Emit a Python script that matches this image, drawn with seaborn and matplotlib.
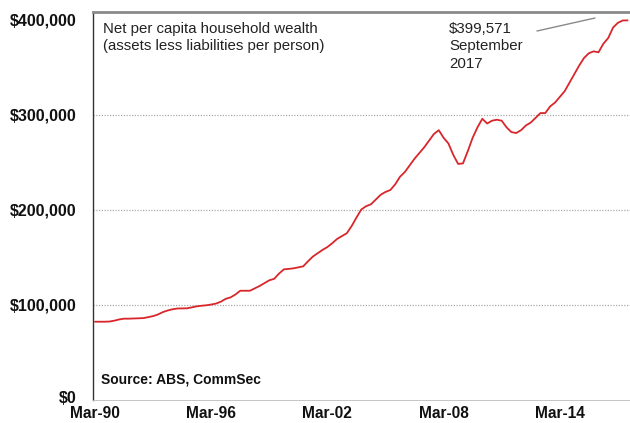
import matplotlib
matplotlib.use("Agg")
import matplotlib.pyplot as plt
import matplotlib.transforms as mtransforms
import seaborn as sns
import pandas as pd
import numpy as np

sns.set_style("white")
plt.rcParams['font.family'] = ['Liberation Sans', 'DejaVu Sans']

# Quarterly net per capita household wealth ($ thousands), Mar-90 .. Sep-17
wealth_k = [
    82.4, 82.4, 82.4, 82.6,
    83.5, 84.8, 85.6, 85.6,
    85.8, 86.0, 86.2, 87.2,
    88.3, 90.0, 92.5, 94.2,
    95.5, 96.3, 96.4, 96.5,
    97.5, 98.6, 99.2, 99.7,
    100.5, 101.5, 103.5, 106.5,
    108, 111, 115, 115,
    115, 117.5, 120, 123,
    126, 127.5, 133, 137.5,
    138, 138.6, 139.6, 140.7,
    146, 151, 154.5, 158,
    161, 165, 169.5, 172.5,
    175.5, 183, 192, 200.5,
    204, 206, 211, 216,
    219, 221, 227, 235,
    240, 247, 254, 260,
    266, 273, 280, 284,
    276, 270, 258, 248.5,
    249, 262, 276, 287,
    296, 291, 294, 295,
    294, 287, 282, 281,
    284, 289, 292, 297,
    302, 302, 309, 313,
    319, 325, 334, 343,
    352, 360, 365, 367,
    366, 375, 381, 392,
    397, 399.5, 399.571,
]
tick_labels = ["Mar-90", "Mar-96", "Mar-02", "Mar-08", "Mar-14"]
tick_pos = [0, 24, 48, 72, 96]
y_ticks = [0, 100000, 200000, 300000, 400000]
y_labels = ["$0", "$100,000", "$200,000", "$300,000", "$400,000"]

df = pd.DataFrame({"q": np.arange(len(wealth_k)), "wealth": np.array(wealth_k) * 1000})

fig = plt.figure(figsize=(6.3, 4.23), dpi=100)
ax = fig.add_axes([93/630, 1 - 400/423, 537/630, 388/423])
sns.lineplot(data=df, x="q", y="wealth", ax=ax, color="#d9262b", linewidth=1.3)

ax.set_xlim(-0.41, 110.5)
ax.set_ylim(0, 408400)
ax.set_xlabel("")
ax.set_ylabel("")

ax.set_yticks(y_ticks)
ax.set_yticklabels(y_labels, fontsize=11.5, fontweight="bold", color="#111111")
ax.set_xticks(tick_pos)
ax.set_xticklabels(tick_labels, fontsize=11.2, fontweight="bold", color="#111111")
ax.set_xticks(np.arange(0, 111), minor=True)
ax.tick_params(axis="x", which="major", length=0, pad=4.5)
ax.tick_params(axis="x", which="minor", direction="in", length=3.5, width=0.6, color="#888888")
ax.tick_params(axis="y", which="major", direction="out", length=6, width=0.8, color="#aaaaaa", pad=6)

# lift the "$0" label a touch so it clears the first date label
zero_lbl = ax.get_yticklabels()[0]
zero_lbl.set_transform(zero_lbl.get_transform() +
                       mtransforms.ScaledTranslation(0, 2.5 / 72, fig.dpi_scale_trans))

for v in [100000, 200000, 300000]:
    ax.axhline(v, color="#aaaaaa", linestyle=(0, (1, 1.2)), linewidth=0.9, zorder=0)

ax.spines["left"].set_color("#333333")
ax.spines["left"].set_linewidth(1.0)
ax.spines["top"].set_color("#8a8a8a")
ax.spines["top"].set_linewidth(2.0)
ax.spines["bottom"].set_color("#bbbbbb")
ax.spines["bottom"].set_linewidth(0.6)
ax.spines["right"].set_visible(False)

ax.text(0.0186, 0.974, "Net per capita household wealth\n(assets less liabilities per person)",
        transform=ax.transAxes, ha="left", va="top", fontsize=10.8, color="#222222",
        linespacing=1.3)
ax.text(0.663, 0.974, "$399,571\nSeptember\n2017",
        transform=ax.transAxes, ha="left", va="top", fontsize=10.8, color="#222222",
        linespacing=1.3)
ax.plot([(537 - 93) / 537, (595 - 93) / 537], [(400 - 31) / 388, (400 - 18) / 388],
        transform=ax.transAxes, color="#8a8a8a", linewidth=1.0)
ax.text(0.0158, 0.054, "Source: ABS, CommSec", transform=ax.transAxes, ha="left", va="center",
        fontsize=10, fontweight="bold", color="#111111")

fig.savefig("out.png", dpi=100)
